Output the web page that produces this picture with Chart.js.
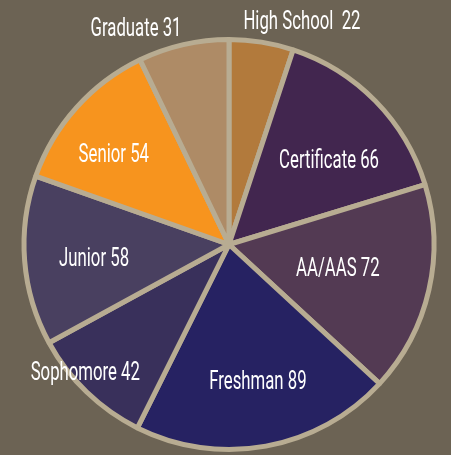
<!DOCTYPE html>
<html>
<head>
<meta charset="utf-8">
<script src="https://cdn.jsdelivr.net/npm/chart.js@4"></script>
<style>
html,body{margin:0;padding:0;background:#6C6354;}
#wrap{width:451px;height:455px;position:relative;}
</style>
</head>
<body>
<div id="wrap"><canvas id="c" width="451" height="455"></canvas></div>
<script>
const categories = ["High School", "Certificate", "AA/AAS", "Freshman", "Sophomore", "Junior", "Senior", "Graduate"];
const values = [22, 66, 72, 89, 42, 58, 54, 31];
const sliceColors = ["#B27A3C", "#42264F", "#533A53", "#262262", "#39305B", "#494060", "#F7941E", "#AE8B66"];
// label placement: angle (deg, clockwise from top) and distance from centre (px)
const labelAngles = [18, 49.3, 101.4, 167.9, 228.8, 264.9, 308.4, 336.9];
const labelDists = [236, 132, 111, 138, 191, 135.5, 147, 237];
const labelTexts = categories.map((c, i) => c + (i === 0 ? "  " : " ") + values[i]);

const labelPlugin = {
  id: 'sliceLabels',
  afterDatasetsDraw(chart) {
    const ctx = chart.ctx;
    const arc = chart.getDatasetMeta(0).data[0];
    const cx = arc.x, cy = arc.y;
    const sx = 0.67;
    ctx.save();
    ctx.fillStyle = '#FFFFFF';
    ctx.font = '400 25px Roboto, "DejaVu Sans", sans-serif';
    ctx.textAlign = 'center';
    ctx.textBaseline = 'middle';
    labelTexts.forEach((t, i) => {
      const a = labelAngles[i] * Math.PI / 180;
      const x = cx + Math.sin(a) * labelDists[i];
      const y = cy - Math.cos(a) * labelDists[i];
      ctx.save();
      ctx.translate(x, y);
      ctx.scale(sx, 1);
      ctx.fillText(t, 0, 3);
      ctx.restore();
    });
    ctx.restore();
  }
};

new Chart(document.getElementById('c'), {
  type: 'pie',
  data: {
    labels: categories,
    datasets: [{
      data: values,
      backgroundColor: sliceColors,
      borderColor: '#B8AC92',
      borderWidth: 5,
      hoverOffset: 0
    }]
  },
  options: {
    responsive: false,
    animation: false,
    radius: 205,
    layout: { padding: { left: 7, right: 0, top: 34, bottom: 0 } },
    plugins: {
      legend: { display: false },
      tooltip: { enabled: false }
    }
  },
  plugins: [labelPlugin]
});
</script>
</body>
</html>
